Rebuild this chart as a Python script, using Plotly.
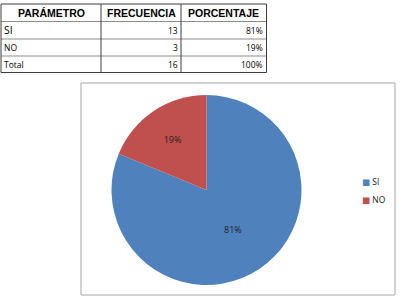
import plotly.graph_objects as go

W, H = 404, 303

categories = ["SI", "NO"]
frecuencia = [13, 3]
porcentaje_txt = ["81%", "19%"]
header_labels = ["PARÁMETRO", "FRECUENCIA", "PORCENTAJE"]
table_col1 = ["SI", "NO", "Total"]
table_col2 = ["13", "3", "16"]
table_col3 = ["81%", "19%", "100%"]
colors = ["#4F81BD", "#C0504D"]

fig = go.Figure()


def px_x(x):
    return x / W


def px_y(y):
    return 1 - y / H


# ---------------- table (grid + text) ----------------
col_edges = [1, 101, 181, 266.5]
row_edges = [4, 21.5, 39, 56, 72.5]
dark = "#3C3C3C"
light = "#8C8C8C"

# horizontal lines
for i, y in enumerate(row_edges):
    outer = i in (0, len(row_edges) - 1)
    fig.add_shape(type="line", xref="paper", yref="paper",
                  x0=px_x(col_edges[0]), x1=px_x(col_edges[-1]),
                  y0=px_y(y), y1=px_y(y),
                  line=dict(color=dark if outer else light, width=1))
# vertical lines
for x in col_edges:
    fig.add_shape(type="line", xref="paper", yref="paper",
                  x0=px_x(x), x1=px_x(x),
                  y0=px_y(row_edges[0]), y1=px_y(row_edges[-1]),
                  line=dict(color=dark, width=1))

# header text
for c, lab in enumerate(header_labels):
    xc = (col_edges[c] + col_edges[c + 1]) / 2
    yc = (row_edges[0] + row_edges[1]) / 2
    fig.add_annotation(x=px_x(xc), y=px_y(yc), xref="paper", yref="paper",
                       text=f"<b>{lab}</b>", showarrow=False,
                       xanchor="center", yanchor="middle",
                       font=dict(family="Liberation Sans, Arial", size=10.5, color="black"))

# body text
columns = [table_col1, table_col2, table_col3]
for c, col in enumerate(columns):
    for r, val in enumerate(col):
        yc = (row_edges[r + 1] + row_edges[r + 2]) / 2
        if c == 0:
            x, anchor = col_edges[c] + 1, "left"
        else:
            x, anchor = col_edges[c + 1] - 1.5, "right"
        size = 10.5 if (c == 0 and val == "SI") else 8.5
        fig.add_annotation(x=px_x(x), y=px_y(yc), xref="paper", yref="paper",
                           text=val, showarrow=False,
                           xanchor=anchor, yanchor="middle",
                           font=dict(family="Open Sans, Liberation Sans", size=size, color="black"))

# ---------------- pie ----------------
fig.add_trace(go.Pie(
    labels=categories,
    values=frecuencia,
    text=porcentaje_txt,
    textinfo="text",
    textposition="inside",
    insidetextorientation="horizontal",
    direction="clockwise",
    sort=False,
    rotation=0,
    marker=dict(colors=colors, line=dict(width=0)),
    textfont=dict(family="Open Sans, Liberation Sans", size=9, color="#222222"),
    domain=dict(x=[px_x(111.5), px_x(301.5)], y=[px_y(285), px_y(95)]),
    showlegend=False,
))

# chart area border
fig.add_shape(type="rect", xref="paper", yref="paper",
              x0=px_x(81), x1=px_x(395), y0=px_y(295), y1=px_y(83),
              line=dict(color="#A6A6A6", width=1), fillcolor="rgba(0,0,0,0)")

# legend (Excel style: small square + label)
legend_y = [181, 199]
for cat, colr, ly in zip(categories, colors, legend_y):
    fig.add_annotation(x=px_x(360), y=px_y(ly), xref="paper", yref="paper",
                       text=f"<span style=\"color:{colr}\">■</span> {cat}",
                       showarrow=False, xanchor="left", yanchor="middle",
                       font=dict(family="Open Sans, DejaVu Sans", size=8.5, color="#222222"))

fig.update_layout(
    width=W, height=H,
    margin=dict(l=0, r=0, t=0, b=0),
    paper_bgcolor="white",
    plot_bgcolor="white",
    showlegend=False,
)

fig.write_html("out.html")
